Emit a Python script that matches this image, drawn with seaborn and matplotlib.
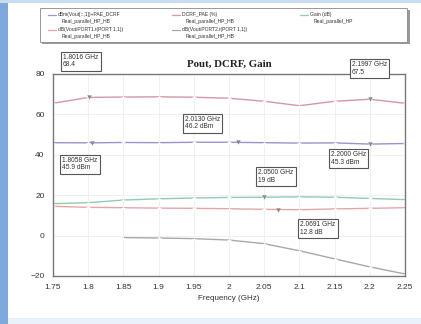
import numpy as np
import pandas as pd
import matplotlib
matplotlib.use("Agg")
import matplotlib.pyplot as plt
from matplotlib.patches import Rectangle
import seaborn as sns

# ---- data -------------------------------------------------------------
freq = [1.75, 1.80, 1.85, 1.90, 1.95, 2.00, 2.05, 2.10, 2.15, 2.20, 2.25]
drain_eff = [65.5, 68.4, 68.6, 68.7, 68.5, 68.0, 66.5, 64.3, 66.5, 67.5, 65.5]
pout_dbm = [46.0, 45.9, 46.1, 46.0, 46.2, 46.2, 46.0, 45.8, 45.9, 45.3, 45.6]
gain_db = [15.8, 16.3, 17.6, 18.2, 18.6, 18.9, 19.0, 19.2, 19.0, 18.4, 17.8]
gain2_db = [14.5, 14.0, 13.8, 13.6, 13.5, 13.3, 13.0, 12.8, 13.2, 13.5, 13.8]
refl_freq = [1.85, 1.90, 1.95, 2.00, 2.05, 2.10, 2.15, 2.20, 2.25]
refl_db = [-1.0, -1.2, -1.5, -2.2, -4.0, -7.5, -11.5, -15.5, -19.0]

series_names = ["DCRF", "Pout", "Gain", "Gain_2", "S11"]
series_colors = ["#d497a3", "#9a94cc", "#93cbb0", "#e6a5a5", "#a8a8a8"]

marker_freq = [1.8016, 2.1997, 2.0130, 1.8058, 2.0500, 2.2000, 2.0691]
marker_val = [68.4, 67.5, 46.2, 45.9, 19.0, 45.3, 12.8]
marker_unit = ["", "", " dBm", " dBm", " dB", " dBm", " dB"]

x_ticks = [1.75, 1.8, 1.85, 1.9, 1.95, 2, 2.05, 2.1, 2.15, 2.2, 2.25]
x_tick_labels = ["1.75", "1.8", "1.85", "1.9", "1.95", "2", "2.05", "2.1", "2.15", "2.2", "2.25"]
y_ticks = [-20, 0, 20, 40, 60, 80]

legend_lines = [
    ("dBm(Vout[::,1])+PAE_DCRF", "Real_parallel_HP_HB"),
    ("DCRF_PAE (%)", "Real_parallel_HP_HB"),
    ("Gain (dB)", "Real_parallel_HP"),
    ("dB(Vout/PORT1.t(PORT 1,1))", "Real_parallel_HP_HB"),
    ("dB(Vout/PORT2.t(PORT 1,1))", "Real_parallel_HP_HB"),
]

# ---- long-form table ----------------------------------------------------
frames = []
for name, vals in zip(series_names[:4], [drain_eff, pout_dbm, gain_db, gain2_db]):
    frames.append(pd.DataFrame({"freq": freq, "value": vals, "trace": name}))
frames.append(pd.DataFrame({"freq": refl_freq, "value": refl_db, "trace": "S11"}))
df = pd.concat(frames, ignore_index=True)

sns.set_theme(style="white")
plt.rcParams["font.family"] = ["Liberation Sans", "DejaVu Sans"]

W, H = 421, 324
fig = plt.figure(figsize=(W / 100, H / 100), dpi=100)
fig.patch.set_facecolor("white")


def fx(px):
    return px / W


def fy(py):
    return 1 - py / H


# window frame
fig.add_artist(Rectangle((0, 0), fx(8), 1, transform=fig.transFigure,
                         facecolor="#7ea9dc", edgecolor="none", zorder=0))
fig.add_artist(Rectangle((0, fy(3)), 1, 3 / H, transform=fig.transFigure,
                         facecolor="#c9dcf2", edgecolor="none", zorder=0))
fig.add_artist(Rectangle((fx(8), 0), 1, 6 / H, transform=fig.transFigure,
                         facecolor="#e9f1fa", edgecolor="none", zorder=0))

ax = fig.add_axes([fx(53), fy(276), fx(405 - 53), (276 - 74) / H])
palette = dict(zip(series_names, series_colors))
sns.lineplot(data=df, x="freq", y="value", hue="trace", palette=palette,
             hue_order=series_names, linewidth=1.0, ax=ax, legend=False,
             marker="+", markersize=3.5, markeredgewidth=0.6)

ax.set_xlim(1.75, 2.25)
ax.set_ylim(-20, 80)
ax.set_xticks(x_ticks)
ax.set_xticklabels(x_tick_labels)
ax.set_yticks(y_ticks)
ax.tick_params(axis="both", labelsize=6, colors="#333333", length=0, pad=6)
ax.set_xlabel("Frequency (GHz)", fontsize=5.8, color="#333333", labelpad=3)
ax.set_ylabel("")
ax.grid(True, color="#eeeeee", linewidth=0.6)
for sp in ax.spines.values():
    sp.set_color("#777777")
    sp.set_linewidth(1.0)

ax.set_title("Pout, DCRF, Gain", fontsize=7.8, fontweight="bold",
             family="Liberation Serif", color="#222222", pad=5)

# marker triangles on the traces
ax.scatter(marker_freq, marker_val, marker="v", s=10, color="#888888",
           zorder=5, linewidths=0)

# marker read-out boxes (figure pixel positions)
box_pos = [(63, 54), (352, 61), (185, 116), (62, 157), (258, 169), (331, 151), (300, 221)]
for (bx, by), f, v, u in zip(box_pos, marker_freq, marker_val, marker_unit):
    fig.text(fx(bx), fy(by), f"{f:.4f} GHz\n{v:g}{u}", fontsize=4.8,
             va="top", ha="left", color="#333333", linespacing=1.1,
             bbox=dict(boxstyle="square,pad=0.35", facecolor="white",
                       edgecolor="#555555", linewidth=0.8))

# legend panel
fig.add_artist(Rectangle((fx(42), fy(44)), fx(410 - 42), (44 - 10) / H,
                         transform=fig.transFigure, facecolor="#999999",
                         edgecolor="none", zorder=1))
fig.add_artist(Rectangle((fx(40), fy(42)), fx(407 - 40), (42 - 8) / H,
                         transform=fig.transFigure, facecolor="white",
                         edgecolor="#888888", linewidth=0.6, zorder=2))
leg_pos = [(48, 12), (172, 12), (300, 12), (48, 27), (172, 27)]
leg_colors = [series_colors[1], series_colors[0], series_colors[2],
              series_colors[3], series_colors[4]]
for (lx, ly), (l1, l2), c in zip(leg_pos, legend_lines, leg_colors):
    fig.add_artist(plt.Line2D([fx(lx), fx(lx + 8)], [fy(ly + 3), fy(ly + 3)],
                              transform=fig.transFigure, color=c,
                              linewidth=0.9, zorder=3))
    fig.text(fx(lx + 10), fy(ly), l1, fontsize=3.6, va="top", ha="left",
             color="#333333", zorder=3)
    fig.text(fx(lx + 14), fy(ly + 7), l2, fontsize=3.6, va="top", ha="left",
             color="#333333", zorder=3)

fig.savefig("out.png", dpi=100)
